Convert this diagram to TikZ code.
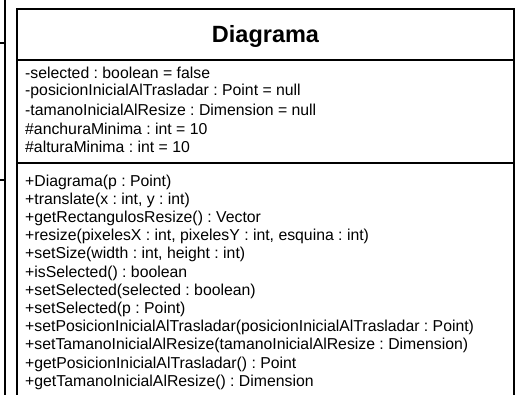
\documentclass[tikz,border=0pt]{standalone}
\usepackage{fontspec}
\setmainfont{Liberation Sans}
\begin{document}
\frenchspacing
\begin{tikzpicture}[x=1pt,y=-1pt,
  frame/.style={line width=2pt,line cap=rect},
  member/.style={anchor=west,inner sep=0pt,font=\fontsize{15.8}{18}\selectfont},
  classname/.style={inner sep=0pt,font=\fontsize{23.5}{26}\selectfont\bfseries}]
\useasboundingbox (0,0) rectangle (520,395);
\begin{scope}
\clip (0,0) rectangle (520,395);
% neighbouring class, only its right edge is in view
\draw[frame] (4.5,-5) -- (4.5,400);
\draw[frame] (-5,43) -- (4.5,43);
\draw[frame] (-5,180) -- (4.5,180);
% class Diagrama
\draw[frame] (17,400) -- (17,9) -- (514,9) -- (514,400);
\draw[frame] (17,60.5) -- (514,60.5);
\draw[frame] (17,163) -- (514,163);
\end{scope}
\node[classname] (title) at (265.5,36) {Diagrama};
% attributes
\foreach \t [count=\i from 0] in {
  -selected : boolean = false,
  -posicionInicialAlTrasladar : Point = null,
  -tamanoInicialAlResize : Dimension = null,
  \#anchuraMinima : int = 10,
  \#alturaMinima : int = 10}
  \node[member] (attr\i) at (25,73+18.5*\i) {\t};
% operations
\foreach \t [count=\i from 0] in {
  +Diagrama(p : Point),
  {+translate(x : int, y : int)},
  +getRectangulosResize() : Vector,
  {+resize(pixelesX : int, pixelesY : int, esquina : int)},
  {+setSize(width : int, height : int)},
  +isSelected() : boolean,
  +setSelected(selected : boolean),
  +setSelected(p : Point),
  +setPosicionInicialAlTrasladar(posicionInicialAlTrasladar : Point),
  +setTamanoInicialAlResize(tamanoInicialAlResize : Dimension),
  +getPosicionInicialAlTrasladar() : Point,
  +getTamanoInicialAlResize() : Dimension}
  \node[member] (op\i) at (25,182+18.2*\i) {\t};
\end{tikzpicture}
\end{document}
